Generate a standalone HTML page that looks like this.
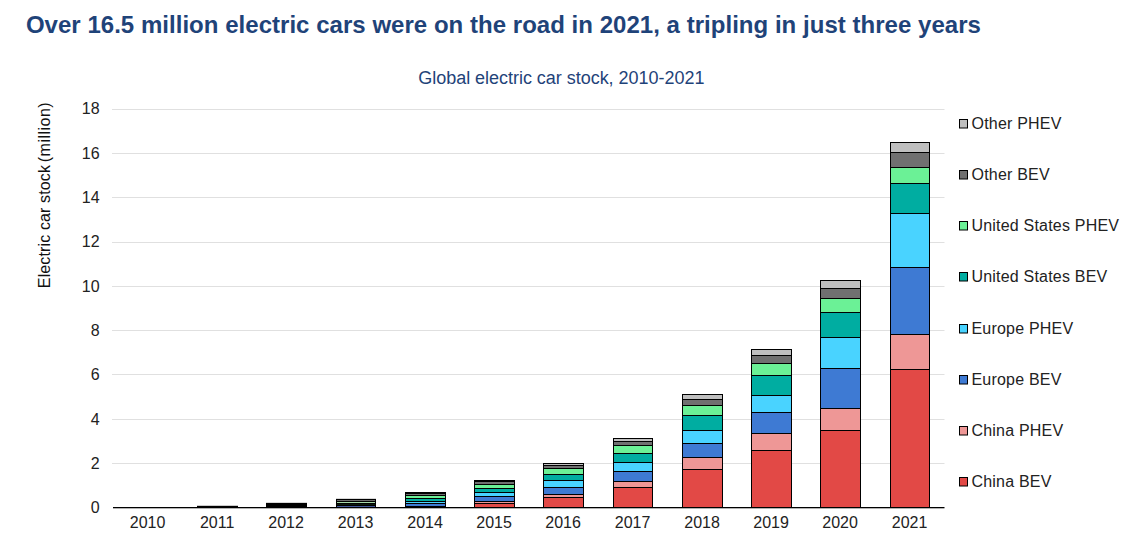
<!DOCTYPE html>
<html><head><meta charset="utf-8"><title>Global electric car stock</title>
<style>
html,body{margin:0;padding:0;background:#fff;}
body{width:1133px;height:547px;position:relative;overflow:hidden;font-family:"Liberation Sans",sans-serif;}
.t{position:absolute;white-space:nowrap;line-height:1;}
#title{left:25.9px;top:13px;font-size:24px;font-weight:bold;color:#1f4379;letter-spacing:0.03px;}
#sub{left:418.3px;top:69px;font-size:18px;letter-spacing:-0.03px;color:#1f4379;}
.yl{font-size:16px;color:#222;text-align:right;width:40px;left:59.6px;}
.xl{font-size:16px;color:#222;text-align:center;width:60px;}
.lg{font-size:16px;color:#222;left:971.5px;letter-spacing:0.2px;}
#ytitle{font-size:16px;color:#111;letter-spacing:0.13px;left:45px;top:195px;transform:translate(-50%,-50%) rotate(-90deg);}
svg{position:absolute;left:0;top:0;}
</style></head><body>
<div class="t" id="title">Over 16.5 million electric cars were on the road in 2021, a tripling in just three years</div>
<div class="t" id="sub">Global electric car stock, 2010-2021</div>
<div class="t" id="ytitle">Electric car stock <span style="margin-left:-1.9px;letter-spacing:0.48px">(million)</span></div>

<svg width="1133" height="547" viewBox="0 0 1133 547" shape-rendering="auto">
<line x1="112" x2="944.5" y1="463.5" y2="463.5" stroke="#e0e0e0" stroke-width="1"/>
<line x1="112" x2="944.5" y1="419.5" y2="419.5" stroke="#e0e0e0" stroke-width="1"/>
<line x1="112" x2="944.5" y1="374.5" y2="374.5" stroke="#e0e0e0" stroke-width="1"/>
<line x1="112" x2="944.5" y1="330.5" y2="330.5" stroke="#e0e0e0" stroke-width="1"/>
<line x1="112" x2="944.5" y1="286.5" y2="286.5" stroke="#e0e0e0" stroke-width="1"/>
<line x1="112" x2="944.5" y1="242.5" y2="242.5" stroke="#e0e0e0" stroke-width="1"/>
<line x1="112" x2="944.5" y1="197.5" y2="197.5" stroke="#e0e0e0" stroke-width="1"/>
<line x1="112" x2="944.5" y1="153.5" y2="153.5" stroke="#e0e0e0" stroke-width="1"/>
<line x1="112" x2="944.5" y1="109.5" y2="109.5" stroke="#e0e0e0" stroke-width="1"/>
<rect x="197.0" y="505.8" width="41.0" height="2.20" fill="#000"/>
<rect x="266.0" y="502.85" width="41.0" height="5.15" fill="#000"/>
<rect x="336.0" y="498.85" width="40.0" height="9.15" fill="#000"/>
<rect x="337.0" y="500" width="38.0" height="1" fill="#6c6c6c"/>
<rect x="337.0" y="502" width="38.0" height="1" fill="#a6d9aa"/>
<rect x="337.0" y="504" width="38.0" height="1" fill="#0a1a0c"/>
<rect x="337.0" y="506" width="38.0" height="1" fill="#42589a"/>
<rect x="405.5" y="492.5" width="40.0" height="1.0" fill="#bfbfbf" stroke="#000" stroke-width="1"/>
<rect x="405.5" y="493.5" width="40.0" height="2.0" fill="#707070" stroke="#000" stroke-width="1"/>
<rect x="405.5" y="495.5" width="40.0" height="3.0" fill="#6bf196" stroke="#000" stroke-width="1"/>
<rect x="405.5" y="498.5" width="40.0" height="3.0" fill="#00ada1" stroke="#000" stroke-width="1"/>
<rect x="405.5" y="501.5" width="40.0" height="2.0" fill="#49d3ff" stroke="#000" stroke-width="1"/>
<rect x="405.5" y="503.5" width="40.0" height="3.0" fill="#3e7ad3" stroke="#000" stroke-width="1"/>
<rect x="405.5" y="506.5" width="40.0" height="1.0" fill="#ee9796" stroke="#000" stroke-width="1"/>
<rect x="405.5" y="507.5" width="40.0" height="0.01" fill="#e24946" stroke="#000" stroke-width="1"/>
<rect x="474.5" y="480.5" width="40.0" height="1.0" fill="#bfbfbf" stroke="#000" stroke-width="1"/>
<rect x="474.5" y="481.5" width="40.0" height="3.0" fill="#707070" stroke="#000" stroke-width="1"/>
<rect x="474.5" y="484.5" width="40.0" height="4.0" fill="#6bf196" stroke="#000" stroke-width="1"/>
<rect x="474.5" y="488.5" width="40.0" height="4.0" fill="#00ada1" stroke="#000" stroke-width="1"/>
<rect x="474.5" y="492.5" width="40.0" height="4.0" fill="#49d3ff" stroke="#000" stroke-width="1"/>
<rect x="474.5" y="496.5" width="40.0" height="5.0" fill="#3e7ad3" stroke="#000" stroke-width="1"/>
<rect x="474.5" y="501.5" width="40.0" height="2.0" fill="#ee9796" stroke="#000" stroke-width="1"/>
<rect x="474.5" y="503.5" width="40.0" height="4.0" fill="#e24946" stroke="#000" stroke-width="1"/>
<rect x="543.5" y="463.5" width="40.0" height="2.0" fill="#bfbfbf" stroke="#000" stroke-width="1"/>
<rect x="543.5" y="465.5" width="40.0" height="3.0" fill="#707070" stroke="#000" stroke-width="1"/>
<rect x="543.5" y="468.5" width="40.0" height="6.0" fill="#6bf196" stroke="#000" stroke-width="1"/>
<rect x="543.5" y="474.5" width="40.0" height="6.0" fill="#00ada1" stroke="#000" stroke-width="1"/>
<rect x="543.5" y="480.5" width="40.0" height="7.0" fill="#49d3ff" stroke="#000" stroke-width="1"/>
<rect x="543.5" y="487.5" width="40.0" height="7.0" fill="#3e7ad3" stroke="#000" stroke-width="1"/>
<rect x="543.5" y="494.5" width="40.0" height="3.0" fill="#ee9796" stroke="#000" stroke-width="1"/>
<rect x="543.5" y="497.5" width="40.0" height="10.0" fill="#e24946" stroke="#000" stroke-width="1"/>
<rect x="613.5" y="438.5" width="39.0" height="3.0" fill="#bfbfbf" stroke="#000" stroke-width="1"/>
<rect x="613.5" y="441.5" width="39.0" height="4.0" fill="#707070" stroke="#000" stroke-width="1"/>
<rect x="613.5" y="445.5" width="39.0" height="8.0" fill="#6bf196" stroke="#000" stroke-width="1"/>
<rect x="613.5" y="453.5" width="39.0" height="9.0" fill="#00ada1" stroke="#000" stroke-width="1"/>
<rect x="613.5" y="462.5" width="39.0" height="9.0" fill="#49d3ff" stroke="#000" stroke-width="1"/>
<rect x="613.5" y="471.5" width="39.0" height="10.0" fill="#3e7ad3" stroke="#000" stroke-width="1"/>
<rect x="613.5" y="481.5" width="39.0" height="6.0" fill="#ee9796" stroke="#000" stroke-width="1"/>
<rect x="613.5" y="487.5" width="39.0" height="20.0" fill="#e24946" stroke="#000" stroke-width="1"/>
<rect x="682.5" y="394.5" width="40.0" height="5.0" fill="#bfbfbf" stroke="#000" stroke-width="1"/>
<rect x="682.5" y="399.5" width="40.0" height="6.0" fill="#707070" stroke="#000" stroke-width="1"/>
<rect x="682.5" y="405.5" width="40.0" height="10.0" fill="#6bf196" stroke="#000" stroke-width="1"/>
<rect x="682.5" y="415.5" width="40.0" height="15.0" fill="#00ada1" stroke="#000" stroke-width="1"/>
<rect x="682.5" y="430.5" width="40.0" height="13.0" fill="#49d3ff" stroke="#000" stroke-width="1"/>
<rect x="682.5" y="443.5" width="40.0" height="14.0" fill="#3e7ad3" stroke="#000" stroke-width="1"/>
<rect x="682.5" y="457.5" width="40.0" height="12.0" fill="#ee9796" stroke="#000" stroke-width="1"/>
<rect x="682.5" y="469.5" width="40.0" height="38.0" fill="#e24946" stroke="#000" stroke-width="1"/>
<rect x="751.5" y="349.5" width="40.0" height="6.0" fill="#bfbfbf" stroke="#000" stroke-width="1"/>
<rect x="751.5" y="355.5" width="40.0" height="8.0" fill="#707070" stroke="#000" stroke-width="1"/>
<rect x="751.5" y="363.5" width="40.0" height="12.0" fill="#6bf196" stroke="#000" stroke-width="1"/>
<rect x="751.5" y="375.5" width="40.0" height="20.0" fill="#00ada1" stroke="#000" stroke-width="1"/>
<rect x="751.5" y="395.5" width="40.0" height="17.0" fill="#49d3ff" stroke="#000" stroke-width="1"/>
<rect x="751.5" y="412.5" width="40.0" height="21.0" fill="#3e7ad3" stroke="#000" stroke-width="1"/>
<rect x="751.5" y="433.5" width="40.0" height="17.0" fill="#ee9796" stroke="#000" stroke-width="1"/>
<rect x="751.5" y="450.5" width="40.0" height="57.0" fill="#e24946" stroke="#000" stroke-width="1"/>
<rect x="820.5" y="280.5" width="40.0" height="8.0" fill="#bfbfbf" stroke="#000" stroke-width="1"/>
<rect x="820.5" y="288.5" width="40.0" height="10.0" fill="#707070" stroke="#000" stroke-width="1"/>
<rect x="820.5" y="298.5" width="40.0" height="14.0" fill="#6bf196" stroke="#000" stroke-width="1"/>
<rect x="820.5" y="312.5" width="40.0" height="25.0" fill="#00ada1" stroke="#000" stroke-width="1"/>
<rect x="820.5" y="337.5" width="40.0" height="31.0" fill="#49d3ff" stroke="#000" stroke-width="1"/>
<rect x="820.5" y="368.5" width="40.0" height="40.0" fill="#3e7ad3" stroke="#000" stroke-width="1"/>
<rect x="820.5" y="408.5" width="40.0" height="22.0" fill="#ee9796" stroke="#000" stroke-width="1"/>
<rect x="820.5" y="430.5" width="40.0" height="77.0" fill="#e24946" stroke="#000" stroke-width="1"/>
<rect x="890.5" y="142.5" width="39.0" height="10.0" fill="#bfbfbf" stroke="#000" stroke-width="1"/>
<rect x="890.5" y="152.5" width="39.0" height="15.0" fill="#707070" stroke="#000" stroke-width="1"/>
<rect x="890.5" y="167.5" width="39.0" height="16.0" fill="#6bf196" stroke="#000" stroke-width="1"/>
<rect x="890.5" y="183.5" width="39.0" height="30.0" fill="#00ada1" stroke="#000" stroke-width="1"/>
<rect x="890.5" y="213.5" width="39.0" height="54.0" fill="#49d3ff" stroke="#000" stroke-width="1"/>
<rect x="890.5" y="267.5" width="39.0" height="67.0" fill="#3e7ad3" stroke="#000" stroke-width="1"/>
<rect x="890.5" y="334.5" width="39.0" height="35.0" fill="#ee9796" stroke="#000" stroke-width="1"/>
<rect x="890.5" y="369.5" width="39.0" height="138.0" fill="#e24946" stroke="#000" stroke-width="1"/>
<rect x="113" y="507" width="831.5" height="1" fill="#000"/>
<rect x="113" y="508" width="831.5" height="1" fill="#000" fill-opacity="0.3"/>
<rect x="959.5" y="119.5" width="8" height="8.5" fill="#bfbfbf" stroke="#000" stroke-width="1"/>
<rect x="959.5" y="170.5" width="8" height="8.5" fill="#707070" stroke="#000" stroke-width="1"/>
<rect x="959.5" y="221.5" width="8" height="8.5" fill="#6bf196" stroke="#000" stroke-width="1"/>
<rect x="959.5" y="272.5" width="8" height="8.5" fill="#00ada1" stroke="#000" stroke-width="1"/>
<rect x="959.5" y="324.5" width="8" height="8.5" fill="#49d3ff" stroke="#000" stroke-width="1"/>
<rect x="959.5" y="375.5" width="8" height="8.5" fill="#3e7ad3" stroke="#000" stroke-width="1"/>
<rect x="959.5" y="426.5" width="8" height="8.5" fill="#ee9796" stroke="#000" stroke-width="1"/>
<rect x="959.5" y="477.5" width="8" height="8.5" fill="#e24946" stroke="#000" stroke-width="1"/>
</svg>
<div class="t yl" style="top:500px">0</div>
<div class="t yl" style="top:456px">2</div>
<div class="t yl" style="top:412px">4</div>
<div class="t yl" style="top:367px">6</div>
<div class="t yl" style="top:323px">8</div>
<div class="t yl" style="top:279px">10</div>
<div class="t yl" style="top:234px">12</div>
<div class="t yl" style="top:190px">14</div>
<div class="t yl" style="top:146px">16</div>
<div class="t yl" style="top:101px">18</div>
<div class="t xl" style="left:117.6px;top:515px">2010</div>
<div class="t xl" style="left:187.1px;top:515px">2011</div>
<div class="t xl" style="left:256.1px;top:515px">2012</div>
<div class="t xl" style="left:325.6px;top:515px">2013</div>
<div class="t xl" style="left:395.1px;top:515px">2014</div>
<div class="t xl" style="left:464.1px;top:515px">2015</div>
<div class="t xl" style="left:533.1px;top:515px">2016</div>
<div class="t xl" style="left:602.6px;top:515px">2017</div>
<div class="t xl" style="left:672.1px;top:515px">2018</div>
<div class="t xl" style="left:741.1px;top:515px">2019</div>
<div class="t xl" style="left:810.1px;top:515px">2020</div>
<div class="t xl" style="left:879.6px;top:515px">2021</div>
<div class="t lg" style="top:116px">Other PHEV</div>
<div class="t lg" style="top:167px">Other BEV</div>
<div class="t lg" style="top:218px">United States PHEV</div>
<div class="t lg" style="top:269px">United States BEV</div>
<div class="t lg" style="top:321px">Europe PHEV</div>
<div class="t lg" style="top:372px">Europe BEV</div>
<div class="t lg" style="top:423px">China PHEV</div>
<div class="t lg" style="top:474px">China BEV</div>
</body></html>
